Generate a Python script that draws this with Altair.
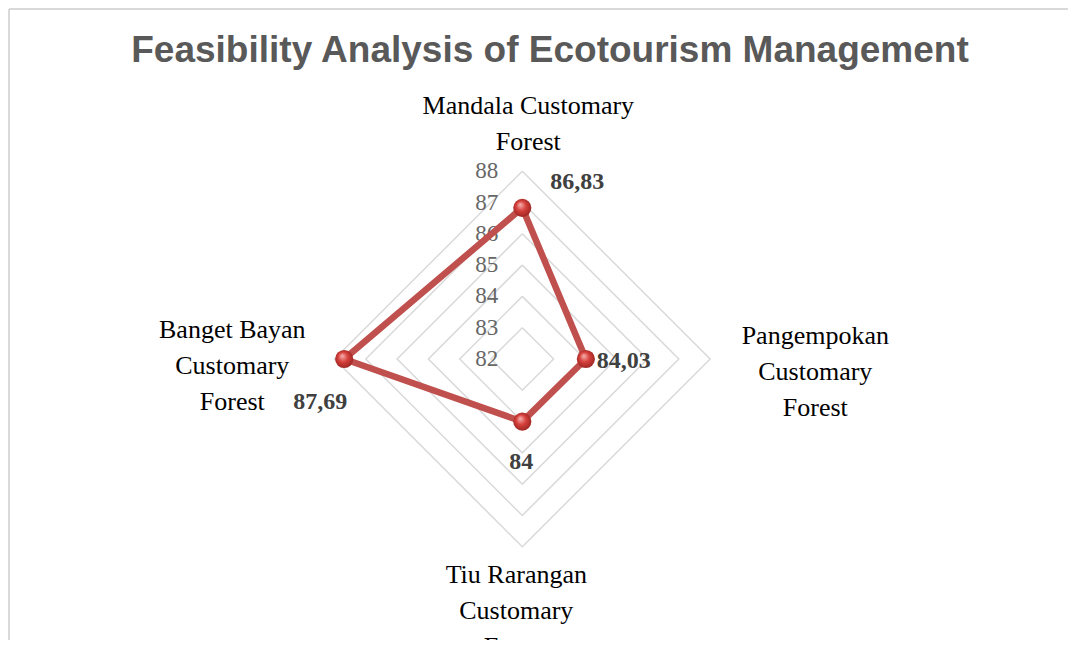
import altair as alt
import pandas as pd
import numpy as np

# ---------------- data ----------------
title_text = "Feasibility Analysis of Ecotourism Management"
categories = ["Mandala Customary Forest", "Pangempokan Customary Forest",
              "Tiu Rarangan Customary Forest", "Banget Bayan Customary Forest"]
category_lines = ["Mandala Customary\nForest", "Pangempokan\nCustomary\nForest",
                  "Tiu Rarangan\nCustomary\nForest", "Banget Bayan\nCustomary\nForest"]
values = [86.83, 84.03, 84.00, 87.69]
value_labels = ["86,83", "84,03", "84", "87,69"]
ring_ticks = [82, 83, 84, 85, 86, 87, 88]

# ---------------- layout (pixels) ----------------
R_MIN = 82
W = 1060
PAD_TOP = 80
H = 552
CX, CY = 514.3, 271.0      # radar centre inside the plot area
K = 31.3                   # pixels per unit on the radial scale
angles = np.radians([90, 0, -90, 180])   # clockwise from top
# category label anchors (first-line baseline) relative to centre, px
cat_off_px = [(6, -245), (293, -15), (-6, 224), (-290, -21)]
# value label anchors relative to their point, px
val_off_px = [(55, -19), (38, 9), (-1, 47), (-24, 50)]

x_dom = [-CX / K, (W - CX) / K]
y_dom = [-(H - CY) / K, CY / K]
X = lambda f: alt.X(f, type="quantitative", scale=alt.Scale(domain=x_dom, nice=False, zero=False), axis=None)
Y = lambda f: alt.Y(f, type="quantitative", scale=alt.Scale(domain=y_dom, nice=False, zero=False), axis=None)

# rings
ring_rows = []
for v in ring_ticks[1:]:
    for i in range(5):
        a = angles[i % 4]
        ring_rows.append({"ring": v, "ord": i, "x": (v - R_MIN) * np.cos(a), "y": (v - R_MIN) * np.sin(a)})
rings = pd.DataFrame(ring_rows)

ticks = pd.DataFrame({"label": [str(t) for t in ring_ticks], "x": 0.0,
                      "y": [t - R_MIN for t in ring_ticks]})

series_rows = []
for i in range(5):
    j = i % 4
    series_rows.append({"cat": categories[j], "ord": i, "value": values[j],
                        "x": (values[j] - R_MIN) * np.cos(angles[j]),
                        "y": (values[j] - R_MIN) * np.sin(angles[j])})
series = pd.DataFrame(series_rows)
points = series.iloc[:4]

vlab = pd.DataFrame({"text": value_labels,
                     "x": [points.x.iloc[i] + val_off_px[i][0] / K for i in range(4)],
                     "y": [points.y.iloc[i] - val_off_px[i][1] / K for i in range(4)]})
clab = pd.DataFrame({"text": category_lines,
                     "x": [o[0] / K for o in cat_off_px],
                     "y": [-o[1] / K for o in cat_off_px]})

ring_layer = alt.Chart(rings).mark_line(color="#D9D9D9", strokeWidth=1.5).encode(
    x=X("x"), y=Y("y"), detail="ring:N", order="ord:Q")

tick_layer = alt.Chart(ticks).mark_text(
    align="right", baseline="middle", dx=-24, font="Liberation Serif", fontSize=23, color="#666666"
).encode(x=X("x"), y=Y("y"), text="label:N")

line_layer = alt.Chart(series).mark_line(color="#C0504D", strokeWidth=6.5, strokeJoin="round").encode(
    x=X("x"), y=Y("y"), order="ord:Q")

grad = alt.RadialGradient(
    gradient="radial",
    stops=[alt.GradientStop(color="#F7B5B3", offset=0),
           alt.GradientStop(color="#D6403C", offset=0.45),
           alt.GradientStop(color="#8E1F1C", offset=1)],
    x1=0.38, y1=0.32, r1=0, x2=0.5, y2=0.5, r2=0.6)
point_layer = alt.Chart(points).mark_point(
    shape="circle", filled=True, fill=grad, size=330, opacity=1, strokeWidth=0
).encode(x=X("x"), y=Y("y"), tooltip=["cat:N", "value:Q"])

vlab_layer = alt.Chart(vlab).mark_text(
    font="Liberation Serif", fontWeight="bold", fontSize=24, color="#404040",
    align="center", baseline="alphabetic"
).encode(x=X("x"), y=Y("y"), text="text:N")

clab_layer = alt.Chart(clab).mark_text(
    font="Liberation Serif", fontSize=26, color="#000000", align="center",
    baseline="alphabetic", lineBreak="\n", lineHeight=36
).encode(x=X("x"), y=Y("y"), text="text:N")

dummy = pd.DataFrame({"d": [0]})
border_top = alt.Chart(dummy).mark_rule(color="#D9D9D9", strokeWidth=2).encode(
    x=alt.value(1), x2=alt.value(W), y=alt.value(-PAD_TOP + 1))
border_left = alt.Chart(dummy).mark_rule(color="#D9D9D9", strokeWidth=2).encode(
    x=alt.value(1), y=alt.value(-PAD_TOP + 1), y2=alt.value(H))

chart = alt.layer(
    border_top, border_left, ring_layer, tick_layer, line_layer, point_layer, vlab_layer, clab_layer
).properties(
    width=W, height=H,
    padding={"left": 0, "top": PAD_TOP, "right": 0, "bottom": 0},
    autosize=alt.AutoSizeParams(type="none"),
    title=alt.TitleParams(title_text, font="Liberation Sans", fontSize=37, fontWeight="bold",
                          color="#595959", anchor="middle", frame="group", dx=12, dy=78, offset=16),
).configure_view(stroke=None)

chart.save("out.html", embed_options={"renderer": "svg", "actions": False})
